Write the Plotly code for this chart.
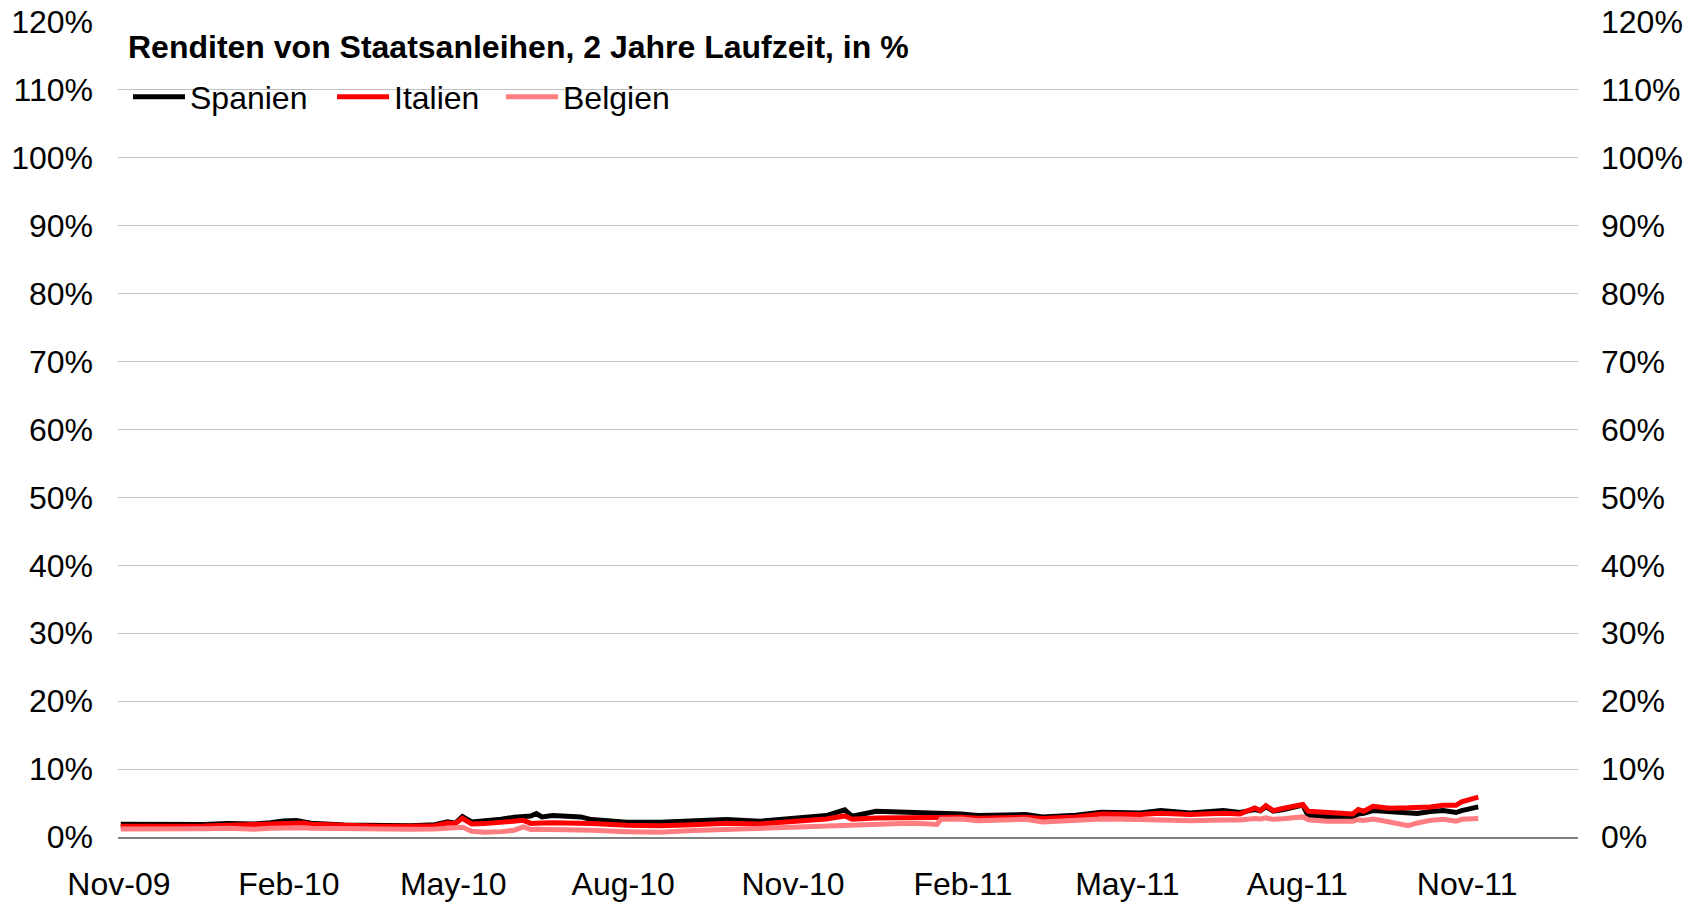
import plotly.graph_objects as go

# ---- data (values in percent) ----
dates = [
    "2009-11-02", "2009-11-16", "2009-12-03", "2009-12-17", "2009-12-30",
    "2010-01-13", "2010-01-22", "2010-01-29", "2010-02-05", "2010-02-09",
    "2010-02-13", "2010-03-03", "2010-03-21", "2010-04-08", "2010-04-21",
    "2010-04-28", "2010-05-02", "2010-05-06", "2010-05-11", "2010-05-18",
    "2010-05-27", "2010-06-03", "2010-06-08", "2010-06-12", "2010-06-15",
    "2010-06-18", "2010-06-24", "2010-07-03", "2010-07-09", "2010-07-15",
    "2010-08-03", "2010-08-21", "2010-09-08", "2010-09-26", "2010-10-14",
    "2010-11-01", "2010-11-19", "2010-11-29", "2010-12-03", "2010-12-16",
    "2011-01-03", "2011-01-12", "2011-01-18", "2011-01-20", "2011-01-31",
    "2011-02-09", "2011-02-27", "2011-03-07", "2011-03-16", "2011-04-03",
    "2011-04-17", "2011-05-08", "2011-05-19", "2011-06-04", "2011-06-22",
    "2011-07-01", "2011-07-09", "2011-07-12", "2011-07-15", "2011-07-19",
    "2011-07-24", "2011-07-31", "2011-08-04", "2011-08-07", "2011-08-17",
    "2011-08-31", "2011-09-03", "2011-09-06", "2011-09-11", "2011-09-20",
    "2011-09-30", "2011-10-05", "2011-10-12", "2011-10-19", "2011-10-26",
    "2011-10-29", "2011-11-07",
]

spanien = [
    1.87, 1.82, 1.77, 1.85, 1.97,
    1.92, 2.10, 2.35, 2.41, 2.30,
    2.02, 1.77, 1.67, 1.67, 1.82,
    2.22, 2.02, 3.00, 2.22, 2.32,
    2.61, 2.91, 2.95, 3.10, 3.45,
    2.96, 3.15, 3.00, 2.96, 2.56,
    2.17, 2.17, 2.41, 2.56, 2.32,
    2.76, 3.15, 3.99, 3.05, 3.79,
    3.69, 3.55, 3.64, 3.50, 3.40,
    3.15, 3.30, 3.30, 2.96, 3.20,
    3.64, 3.55, 3.89, 3.55, 3.89,
    3.60, 4.04, 3.85, 4.45, 3.80,
    4.00, 4.40, 4.70, 3.05, 2.96,
    3.00, 3.40, 3.50, 3.89, 3.69,
    3.40, 3.45, 3.74, 3.89, 3.60,
    3.89, 4.43,
]

italien = [
    1.58, 1.55, 1.53, 1.62, 1.72,
    1.82, 1.95, 2.10, 2.12, 2.05,
    1.87, 1.67, 1.58, 1.58, 1.67,
    2.07, 1.97, 2.76, 1.92, 1.97,
    2.17, 2.51, 2.45, 2.00, 1.97,
    2.05, 2.10, 2.12, 2.07, 1.97,
    1.72, 1.67, 1.82, 2.02, 1.92,
    2.32, 2.66, 3.10, 2.61, 2.81,
    2.91, 2.96, 2.90, 2.95, 2.91,
    2.76, 2.96, 2.90, 2.71, 2.95,
    3.40, 3.30, 3.50, 3.30, 3.50,
    3.40, 4.29, 3.90, 4.63, 3.89,
    4.19, 4.53, 4.78, 3.79, 3.60,
    3.40, 4.04, 3.80, 4.53, 4.24,
    4.29, 4.30, 4.43, 4.68, 4.68,
    5.17, 5.86,
]

belgien = [
    1.18, 1.15, 1.13, 1.20, 1.28,
    1.13, 1.30, 1.38, 1.38, 1.35,
    1.28, 1.18, 1.13, 1.13, 1.18,
    1.23, 1.25, 1.43, 0.84, 0.69,
    0.79, 1.00, 1.50, 1.10, 1.13,
    1.13, 1.10, 1.10, 1.08, 0.99,
    0.79, 0.69, 0.94, 1.13, 1.18,
    1.43, 1.63, 1.82, 1.75, 1.82,
    2.02, 1.95, 1.85, 2.60, 2.66,
    2.41, 2.66, 2.60, 2.22, 2.45,
    2.66, 2.56, 2.50, 2.41, 2.51,
    2.51, 2.71, 2.65, 2.81, 2.60,
    2.70, 2.85, 2.96, 2.55, 2.32,
    2.32, 2.55, 2.45, 2.66, 2.22,
    1.67, 2.07, 2.45, 2.61, 2.32,
    2.61, 2.71,
]

series_names = ["Spanien", "Italien", "Belgien"]
series_colors = ["#000000", "#FF0000", "#FF7C80"]

tick_dates = ["2009-11-01", "2010-02-01", "2010-05-01", "2010-08-01", "2010-11-01",
              "2011-02-01", "2011-05-01", "2011-08-01", "2011-11-01"]
tick_labels = ["Nov-09", "Feb-10", "May-10", "Aug-10", "Nov-10",
               "Feb-11", "May-11", "Aug-11", "Nov-11"]

title_text = "Renditen von Staatsanleihen, 2 Jahre Laufzeit, in %"

FONT = "Arial, Liberation Sans, sans-serif"
FS = 32

fig = go.Figure()
legends = ["legend", "legend2", "legend3"]
for vals, name, col, lg in zip([spanien, italien, belgien], series_names, series_colors, legends):
    fig.add_trace(go.Scatter(x=dates, y=vals, mode="lines", name=name,
                             line=dict(color=col, width=5), legend=lg))

# invisible trace to activate the right-hand axis
fig.add_trace(go.Scatter(x=dates, y=spanien, yaxis="y2", mode="lines",
                         line=dict(color="rgba(0,0,0,0)", width=0),
                         showlegend=False, hoverinfo="skip"))

W, H = 1699, 903
ML, MR, MT, MB = 118, 121, 22, 66
pw = W - ML - MR
ph = H - MT - MB

def px_to_paper_x(px):
    return (px - ML) / pw

def px_to_paper_y(py):
    return (H - MB - py) / ph

leg_common = dict(orientation="h", bgcolor="rgba(255,255,255,0)", borderwidth=0,
                  font=dict(family=FONT, size=FS, color="#000000"),
                  itemwidth=52, xanchor="left", yanchor="middle",
                  y=px_to_paper_y(97))

fig.update_layout(
    template="none",
    width=W, height=H,
    margin=dict(l=ML, r=MR, t=MT, b=MB, autoexpand=False),
    paper_bgcolor="white", plot_bgcolor="white",
    font=dict(family=FONT, size=FS, color="#000000"),
    title=dict(text="<b>" + title_text + "</b>", x=px_to_paper_x(128), xref="paper",
               xanchor="left", y=px_to_paper_y(47), yref="paper", yanchor="middle",
               font=dict(family=FONT, size=FS, color="#000000")),
    legend=dict(**leg_common, x=px_to_paper_x(128)),
    legend2=dict(**leg_common, x=px_to_paper_x(332)),
    legend3=dict(**leg_common, x=px_to_paper_x(501)),
    xaxis=dict(type="date", range=["2009-10-31 12:00", "2011-12-31"],
               tickvals=tick_dates, ticktext=tick_labels, showgrid=False,
               showline=True, linecolor="#808080", linewidth=2, zeroline=False,
               ticks="", ticklabelstandoff=18, automargin=False,
               tickfont=dict(family=FONT, size=FS, color="#000000")),
    yaxis=dict(range=[0, 120], dtick=10, ticksuffix="%", showgrid=True,
               gridcolor="#C0C0C0", gridwidth=1, zeroline=False, showline=False,
               ticks="", ticklabelstandoff=24, automargin=False,
               tickfont=dict(family=FONT, size=FS, color="#000000")),
    yaxis2=dict(range=[0, 120], dtick=10, ticksuffix="%", overlaying="y", side="right",
                showgrid=False, zeroline=False, showline=False, ticks="",
                ticklabelstandoff=22, automargin=False,
                tickfont=dict(family=FONT, size=FS, color="#000000")),
    hovermode=False,
)

fig.write_html("out.html", config={"displayModeBar": False},
               post_script="document.body.style.margin='0px';")
